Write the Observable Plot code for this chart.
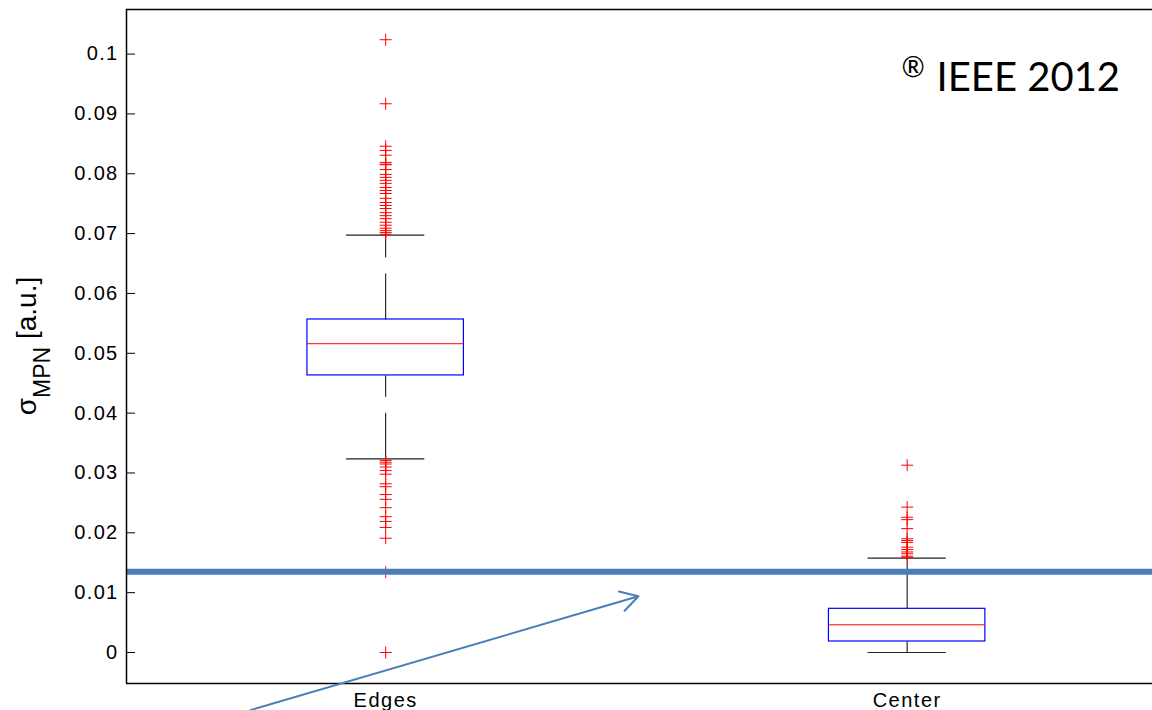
<!DOCTYPE html>
<html><head><meta charset="utf-8">
<script src="https://cdn.jsdelivr.net/npm/d3@7"></script>
<script src="https://cdn.jsdelivr.net/npm/@observablehq/plot@0.6"></script>
<style>
html,body{margin:0;padding:0;background:#fff;}
#chart svg{display:block;}
g[aria-label="y-axis tick label"] text{letter-spacing:1.3px;}
g[aria-label="x-axis tick label"] text{letter-spacing:1.5px;}
</style></head>
<body><div id="chart"></div>
<script>
// ---- data ----
const groups = ["Edges", "Center"];
const groupPos = [1, 2];
const q1 = [0.0463, 0.00184];
const median = [0.0516, 0.00463];
const q3 = [0.05565, 0.0073];
const whiskerLow = [0.03237, 0];
const whiskerHigh = [0.06974, 0.01576];
const edgesOutliers = [0.1024, 0.0917, 0.0846, 0.0839, 0.0831, 0.0819, 0.0816, 0.0815, 0.0807, 0.0799,
  0.0794, 0.0789, 0.0784, 0.0777, 0.0772, 0.0767, 0.0759, 0.0752, 0.0747, 0.0742, 0.0735, 0.0730,
  0.0725, 0.0719, 0.0714, 0.0709, 0.0705, 0.0702, 0.0699,
  0.0321, 0.0318, 0.0315, 0.0310, 0.0304, 0.0298, 0.0282, 0.0277, 0.0264, 0.0256, 0.0242, 0.0227,
  0.0219, 0.0209, 0.0191, 0.0134, 0.0];
const centerOutliers = [0.0313, 0.0243, 0.0226, 0.0222, 0.0207, 0.0190, 0.0187, 0.0184, 0.0176,
  0.0172, 0.0168, 0.0165, 0.0161, 0.0159];
const thresholdLevel = [0.0135];
const yTicks = [0, 0.01, 0.02, 0.03, 0.04, 0.05, 0.06, 0.07, 0.08, 0.09, 0.1];
const xDomain = [0.503, 2.4705];
const yDomain = [-0.00518, 0.10745];
const arrowAnnotation = [{x1: 0.7405, y1: -0.00963, x2: 1.4847, y2: 0.0094}];
const copyrightMark = ["®"];
const copyrightText = ["IEEE 2012"];

// ---- derived tables ----
const boxes = groups.map((g, i) => ({g, x: groupPos[i], q1: q1[i], med: median[i], q3: q3[i], lo: whiskerLow[i], hi: whiskerHigh[i]}));
const outliers = [
  ...edgesOutliers.map(v => ({x: groupPos[0], y: v})),
  ...centerOutliers.map(v => ({x: groupPos[1], y: v}))
];
const BOX_HALF = 0.15, CAP_HALF = 0.075;
const plusSymbol = {
  draw(context, size) {
    const r = Math.sqrt(size / Math.PI);
    context.moveTo(-r, 0); context.lineTo(r, 0);
    context.moveTo(0, -r); context.lineTo(0, r);
  }
};
const W = 1152, H = 710, ML = 126, MR = 0, MT = 9, MB = 27;

const chart = Plot.plot({
  width: W, height: H, marginLeft: ML, marginRight: MR, marginTop: MT, marginBottom: MB,
  style: {fontFamily: "'Liberation Sans', Arial, sans-serif", fontSize: "20px", background: "white", color: "black", overflow: "visible"},
  x: {type: "linear", domain: xDomain},
  y: {type: "linear", domain: yDomain},
  marks: [
    Plot.axisY({ticks: yTicks, tickSize: 0, tickPadding: 8, tickFormat: d => String(d), label: null, fontSize: 20}),
    Plot.ruleY(yTicks, {stroke: "black", strokeWidth: 1, insetRight: (W - ML - MR) - 9}),
    Plot.axisX({ticks: groupPos, tickSize: 0, tickPadding: 9, tickFormat: d => groups[groupPos.indexOf(d)], label: null, fontSize: 20}),
    // whiskers (dashed)
    Plot.link(boxes, {x1: "x", x2: "x", y1: "q3", y2: "hi", stroke: "black", strokeWidth: 1, strokeDasharray: "46,16"}),
    Plot.link(boxes, {x1: "x", x2: "x", y1: "lo", y2: "q1", stroke: "black", strokeWidth: 1, strokeDasharray: "46,16"}),
    // caps
    Plot.ruleY(boxes, {y: "hi", x1: d => d.x - CAP_HALF, x2: d => d.x + CAP_HALF, stroke: "#222", strokeWidth: 1.2}),
    Plot.ruleY(boxes, {y: "lo", x1: d => d.x - CAP_HALF, x2: d => d.x + CAP_HALF, stroke: "#222", strokeWidth: 1.2}),
    // boxes
    Plot.rect(boxes, {x1: d => d.x - BOX_HALF, x2: d => d.x + BOX_HALF, y1: "q1", y2: "q3", fill: "none", stroke: "#0000ff", strokeWidth: 1.2}),
    Plot.ruleY(boxes, {y: "med", x1: d => d.x - BOX_HALF, x2: d => d.x + BOX_HALF, stroke: "#ff0000", strokeWidth: 1}),
    // outliers
    Plot.dot(outliers, {x: "x", y: "y", symbol: plusSymbol, r: 6, stroke: "#ff0000", fill: "none", strokeWidth: 1}),
    // threshold line
    Plot.ruleY(thresholdLevel, {stroke: "#4a7ebb", strokeWidth: 6}),
    // frame (left, top, bottom)
    Plot.ruleX([xDomain[0]], {stroke: "black", strokeWidth: 1.5}),
    Plot.ruleY([yDomain[0], yDomain[1]], {stroke: "black", strokeWidth: 1.5}),
    // arrow annotation
    Plot.arrow(arrowAnnotation, {x1: "x1", y1: "y1", x2: "x2", y2: "y2", stroke: "#4a7ebb", strokeWidth: 2, headLength: 15, headAngle: 60}),
    // copyright text
    Plot.text(copyrightMark, {frameAnchor: "top-left", dx: 775, dy: 48, textAnchor: "start", lineAnchor: "top", fontFamily: "Lato", fontSize: 28, fill: "black"}),
    Plot.text(copyrightText, {frameAnchor: "top-left", dx: 810, dy: 53, textAnchor: "start", lineAnchor: "top", fontFamily: "Lato", fontSize: 40, fill: "black"})
  ]
});
document.getElementById("chart").appendChild(chart);

// y-axis label with subscript
const svg = d3.select(chart);
const lab = svg.append("text")
  .attr("transform", "translate(36,346) rotate(-90)")
  .attr("text-anchor", "middle")
  .attr("font-family", "'Liberation Sans', Arial, sans-serif")
  .attr("font-size", 28)
  .attr("fill", "black");
lab.append("tspan").text("σ");
lab.append("tspan").attr("font-size", 23).attr("dy", 14).text("MPN");
lab.append("tspan").attr("dy", -14).text(" [a.u.]");
</script>
</body></html>
